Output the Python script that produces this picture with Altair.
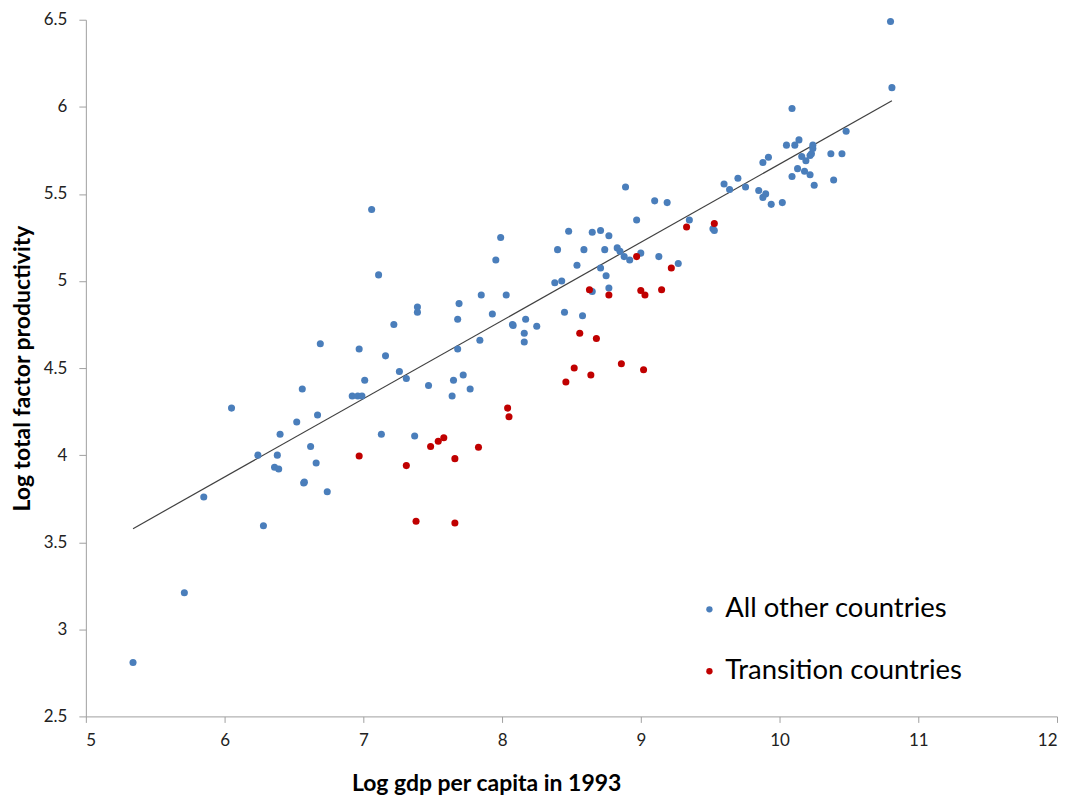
import altair as alt
import pandas as pd

blue_x = [5.34, 5.71, 5.85, 6.05, 6.24, 6.28, 6.38, 6.36, 6.39, 6.40, 6.52, 6.56, 6.57, 6.575, 6.62, 6.66, 6.67, 6.69, 6.74,
          6.92, 6.96, 6.99, 6.97, 7.01, 7.06, 7.11, 7.13, 7.16, 7.22, 7.26, 7.31, 7.37, 7.39, 7.39, 7.47, 7.64, 7.65, 7.68,
          7.68, 7.69, 7.72, 7.77, 7.84, 7.85, 7.93, 7.955, 7.99, 8.03, 8.075, 8.08, 8.16, 8.16, 8.17, 8.25, 8.38, 8.40,
          8.43, 8.45, 8.48, 8.54, 8.58, 8.59, 8.65, 8.65, 8.71, 8.71, 8.74, 8.75, 8.77, 8.77, 8.83, 8.85, 8.88, 8.89,
          8.92, 8.97, 9.00, 9.10, 9.13, 9.19, 9.27, 9.35, 9.52, 9.53, 9.60, 9.64, 9.70, 9.755, 9.85, 9.88, 9.88, 9.90,
          9.92, 9.94, 10.02, 10.05, 10.09, 10.09, 10.11, 10.13, 10.14, 10.16, 10.18, 10.19, 10.22, 10.22, 10.23, 10.24,
          10.24, 10.25, 10.37, 10.39, 10.45, 10.48, 10.80, 10.81]
blue_y = [2.81, 3.21, 3.76, 4.27, 4.00, 3.595, 4.00, 3.93, 3.92, 4.12, 4.19, 4.38, 3.84, 3.845, 4.05, 3.955, 4.23, 4.64, 3.79,
          4.34, 4.34, 4.34, 4.61, 4.43, 5.41, 5.035, 4.12, 4.57, 4.75, 4.48, 4.44, 4.11, 4.85, 4.82, 4.40, 4.34, 4.43, 4.78,
          4.61, 4.87, 4.46, 4.38, 4.66, 4.92, 4.81, 5.12, 5.25, 4.92, 4.75, 4.745, 4.70, 4.65, 4.78, 4.74, 4.99, 5.18,
          5.00, 4.82, 5.285, 5.09, 4.80, 5.18, 5.28, 4.94, 5.29, 5.075, 5.18, 5.03, 5.26, 4.96, 5.19, 5.17, 5.14, 5.54,
          5.12, 5.35, 5.16, 5.46, 5.14, 5.45, 5.10, 5.35, 5.30, 5.29, 5.557, 5.525, 5.59, 5.54, 5.52, 5.68, 5.48, 5.50,
          5.71, 5.44, 5.45, 5.78, 5.99, 5.60, 5.78, 5.645, 5.81, 5.715, 5.63, 5.69, 5.72, 5.61, 5.73, 5.76,
          5.78, 5.55, 5.73, 5.58, 5.73, 5.86, 6.49, 6.11]

red_x = [6.97, 7.31, 7.38, 7.485, 7.54, 7.58, 7.66, 7.66, 7.83, 8.04, 8.05, 8.46, 8.52, 8.56, 8.63, 8.64, 8.68, 8.77,
         8.86, 8.97, 9.00, 9.02, 9.03, 9.15, 9.22, 9.33, 9.53]
red_y = [3.995, 3.94, 3.62, 4.05, 4.08, 4.10, 3.98, 3.61, 4.045, 4.27, 4.22, 4.42, 4.50, 4.70, 4.95, 4.46, 4.67, 4.92,
         4.525, 5.14, 4.945, 4.49, 4.92, 4.95, 5.075, 5.31, 5.33]

line_x = [5.34, 10.81]
line_y = [3.578, 6.035]

groups = ["All other countries", "Transition countries"]
colors = ["#4A7EBB", "#C00000"]

x_ticks = [5, 6, 7, 8, 9, 10, 11, 12]
y_ticks = [2.5, 3, 3.5, 4, 4.5, 5, 5.5, 6, 6.5]

pts = pd.DataFrame({
    "x": blue_x + red_x,
    "y": blue_y + red_y,
    "group": [groups[0]] * len(blue_x) + [groups[1]] * len(red_x),
})
line_df = pd.DataFrame({"x": line_x, "y": line_y})

FONT = "Lato"
AX = "#A0A0A0"

xscale = alt.Scale(domain=[5, 12], nice=False, zero=False)
yscale = alt.Scale(domain=[2.5, 6.5], nice=False, zero=False)

xaxis = alt.Axis(values=x_ticks, grid=False, title="Log gdp per capita in 1993",
                 labelExpr="'' + datum.value",
                 labelFontSize=17, labelColor="#222", labelPadding=10, tickSize=6,
                 domainColor=AX, tickColor=AX, titleFontSize=23, titleFontWeight="bold",
                 titleX=401, titleY=74, titleBaseline="alphabetic", titleAlign="center", titleColor="#000")
yaxis = alt.Axis(values=y_ticks, grid=False, title="Log total factor productivity",
                 labelExpr="'' + datum.value",
                 labelFontSize=17, labelColor="#222", labelPadding=12, tickSize=7,
                 domainColor=AX, tickColor=AX, titleFontSize=23, titleFontWeight="bold",
                 titleX=-63, titleY=349, titleAngle=-90, titleBaseline="middle", titleAlign="center",
                 titleColor="#000")

points = alt.Chart(pts).mark_circle(size=50, opacity=1).encode(
    x=alt.X("x:Q", scale=xscale, axis=xaxis),
    y=alt.Y("y:Q", scale=yscale, axis=yaxis),
    color=alt.Color("group:N", scale=alt.Scale(domain=groups, range=colors),
                    legend=alt.Legend(title=None, orient="none", legendX=611, legendY=577,
                                      labelFontSize=27.5, labelFont=FONT, labelColor="#000",
                                      labelLimit=500,
                                      symbolSize=40, symbolType="circle", rowPadding=33,
                                      labelOffset=2)),
)

line = alt.Chart(line_df).mark_line(color="#404040", strokeWidth=1.2).encode(
    x=alt.X("x:Q", scale=xscale),
    y=alt.Y("y:Q", scale=yscale),
)

chart = alt.layer(line, points).properties(
    width=973, height=698,
    autosize=alt.AutoSizeParams(type="none"),
    padding={"left": 78, "top": 11, "right": 5, "bottom": 80},
).configure(font=FONT).configure_view(stroke=None)

chart.save("out.html", embed_options={"renderer": "svg", "actions": False})
